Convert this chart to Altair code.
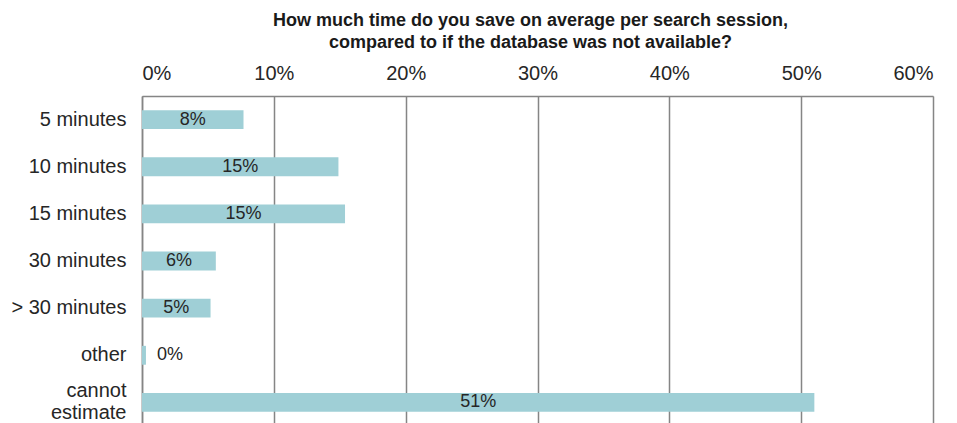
import altair as alt
import pandas as pd

categories = ["5 minutes", "10 minutes", "15 minutes", "30 minutes", "> 30 minutes", "other", "cannot estimate"]
values = [7.7, 14.9, 15.4, 5.6, 5.2, 0.3, 51.0]
labels = ["8%", "15%", "15%", "6%", "5%", "0%", "51%"]
ticks = [0, 10, 20, 30, 40, 50, 60]

df = pd.DataFrame({"cat": categories, "value": values, "label": labels})

FONT = "Liberation Sans"
TXT = "#262626"
GRID = "#858585"

y_scale = alt.Scale(paddingInner=0.6, paddingOuter=0.3, range=[0, 330])

y_enc = alt.Y(
    "cat:N",
    sort=categories,
    scale=y_scale,
    axis=alt.Axis(
        title=None,
        ticks=False,
        labelFontSize=20,
        labelFont=FONT,
        labelColor=TXT,
        labelPadding=16,
        labelLineHeight=22,
        labelOffset=alt.condition("datum.value == 'cannot estimate'", alt.value(-11), alt.value(0)),
        labelExpr="datum.value == 'cannot estimate' ? ['cannot', 'estimate'] : datum.label",
        domainColor=GRID,
        domainWidth=1.5,
        grid=False,
    ),
)

x_scale = alt.Scale(domain=[0, 60], nice=False)

bars = alt.Chart(df).mark_bar(color="#9fcfd6").encode(
    x=alt.X(
        "value:Q",
        scale=x_scale,
        axis=alt.Axis(
            orient="top",
            title=None,
            values=ticks,
            ticks=False,
            labelExpr="datum.value + '%'",
            labelFontSize=20,
            labelFont=FONT,
            labelColor=TXT,
            labelPadding=13,
            grid=True,
            gridColor=GRID,
            gridWidth=1.5,
            domainColor=GRID,
            domainWidth=1.5,
        ),
    ),
    y=y_enc,
)

inside = alt.Chart(df).transform_filter("datum.value >= 1").transform_calculate(
    mid="datum.value / 2"
).mark_text(fontSize=18, font=FONT, color=TXT, align="center", baseline="middle").encode(
    x=alt.X("mid:Q", scale=x_scale),
    y=alt.Y("cat:N", sort=categories),
    text="label:N",
)

outside = alt.Chart(df).transform_filter("datum.value < 1").mark_text(
    fontSize=18, font=FONT, color=TXT, align="left", baseline="middle", dx=11
).encode(
    x=alt.X("value:Q", scale=x_scale),
    y=alt.Y("cat:N", sort=categories),
    text="label:N",
)

chart = alt.layer(bars, inside, outside).properties(
    width=791,
    height=327,
    autosize=alt.AutoSizeParams(type="none"),
    padding={"left": 142, "top": 96, "right": 24, "bottom": 0},
    title=alt.TitleParams(
        text=["How much time do you save on average per search session,",
              "compared to if the database was not available?"],
        fontSize=18,
        font=FONT,
        fontWeight="bold",
        color="#1a1a1a",
        anchor="middle",
        offset=11,
        dx=-7,
        lineHeight=22,
    ),
).configure_view(stroke=None).configure(background="white")

chart.save("out.html", embed_options={"renderer": "svg", "actions": False})
